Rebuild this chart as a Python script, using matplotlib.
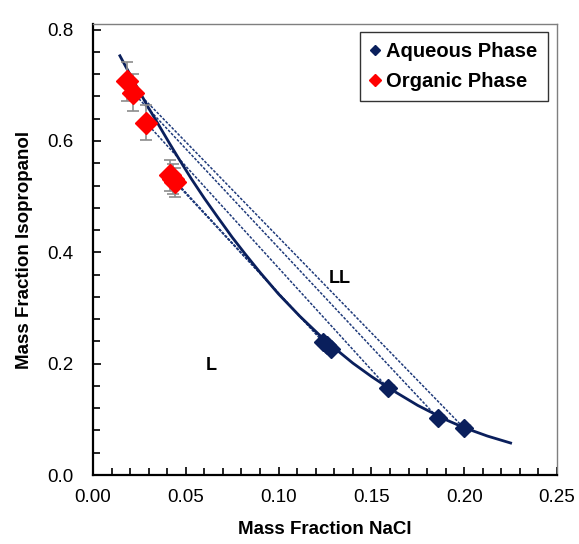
import matplotlib
matplotlib.use('Agg')
import matplotlib.pyplot as plt
from matplotlib.ticker import MultipleLocator, FormatStrFormatter

plt.rcParams['font.family'] = ['Liberation Sans', 'DejaVu Sans']

# 数据
aq_x = [0.124, 0.126, 0.128, 0.159, 0.186, 0.200]
aq_y = [0.239, 0.233, 0.226, 0.156, 0.102, 0.084]
aq_xerr = [0.003, 0.003, 0.003, 0.003, 0.003, 0.003]

org_x = [0.0183, 0.0216, 0.0286, 0.0415, 0.0430, 0.0442]
org_y = [0.707, 0.687, 0.633, 0.538, 0.532, 0.526]
org_yerr = [0.035, 0.034, 0.032, 0.027, 0.027, 0.026]

# 拟合曲线（双节线）
curve_x = [0.0145, 0.020, 0.025, 0.030, 0.035, 0.041, 0.047, 0.053, 0.060, 0.067,
           0.075, 0.082, 0.090, 0.100, 0.1115, 0.125, 0.140, 0.150, 0.159,
           0.175, 0.190, 0.200, 0.2125, 0.225]
curve_y = [0.753, 0.719, 0.689, 0.659, 0.631, 0.597, 0.564, 0.532, 0.497, 0.464,
           0.427, 0.397, 0.364, 0.325, 0.285, 0.242, 0.201, 0.177, 0.157,
           0.125, 0.0995, 0.085, 0.070, 0.0575]

# 连接线：有机相点 i -> 水相点 j
tie_pairs = [(0, 5), (1, 4), (2, 3), (3, 0), (4, 1), (5, 2)]

navy = '#0A1F5C'
red = '#FF0000'
grey = '#8C8C8C'

fig = plt.figure(figsize=(5.79, 5.44), dpi=100)
ax = fig.add_axes([0.1606, 0.1268, 0.8014, 0.8290])

for i, j in tie_pairs:
    ax.plot([org_x[i], aq_x[j]], [org_y[i], aq_y[j]], color='#1F3A7A', lw=1.1,
            linestyle=(0, (1.8, 1.0)), zorder=2)

ax.plot(curve_x, curve_y, color=navy, lw=2.0, zorder=3, solid_joinstyle='round')

ax.errorbar(org_x, org_y, yerr=org_yerr, fmt='none', ecolor=grey,
            elinewidth=1.2, capsize=4, capthick=1.2, zorder=4)
ax.errorbar(aq_x, aq_y, xerr=aq_xerr, fmt='none', ecolor=grey,
            elinewidth=1.0, capsize=3, capthick=1.0, zorder=4)
ax.plot(aq_x, aq_y, 'D', color=navy, ms=9, mec=navy, label='Aqueous Phase', zorder=5)
ax.plot(org_x, org_y, 'D', color=red, ms=11, mec=red, label='Organic Phase', zorder=5)

ax.text(0.133, 0.353, 'LL', fontsize=13, fontweight='bold', ha='center', va='center')
ax.text(0.0636, 0.196, 'L', fontsize=13, fontweight='bold', ha='center', va='center')

ax.set_xlim(0, 0.25)
ax.set_ylim(0, 0.81)
ax.xaxis.set_major_locator(MultipleLocator(0.05))
ax.xaxis.set_minor_locator(MultipleLocator(0.01))
ax.yaxis.set_minor_locator(MultipleLocator(0.04))
ax.set_yticks([0, 0.2, 0.4, 0.6, 0.8])
ax.xaxis.set_major_formatter(FormatStrFormatter('%.2f'))
ax.yaxis.set_major_formatter(FormatStrFormatter('%.1f'))
ax.tick_params(which='both', direction='in', top=False, right=False,
               labelsize=13.5, width=1.2, color='black')
ax.tick_params(axis='x', pad=10)
ax.tick_params(axis='y', pad=14)
ax.tick_params(which='major', length=6)
ax.tick_params(which='minor', length=5)

for s in ['left', 'bottom']:
    ax.spines[s].set_linewidth(1.6)
    ax.spines[s].set_color('black')
for s in ['top', 'right']:
    ax.spines[s].set_linewidth(1.0)
    ax.spines[s].set_color('#7F7F7F')

ax.set_xlabel('Mass Fraction NaCl', fontsize=13.5, fontweight='bold', labelpad=11)
ax.set_ylabel('Mass Fraction Isopropanol', fontsize=13.5, fontweight='bold', labelpad=10)

leg = ax.legend(loc='upper right', bbox_to_anchor=(0.98, 0.982), fontsize=14.5,
                frameon=True, fancybox=False, edgecolor='black', markerscale=0.6,
                handlelength=0.5, handletextpad=0.3, borderpad=0.5, labelspacing=0.55,
                borderaxespad=0)
leg.get_frame().set_linewidth(1.0)
for t in leg.get_texts():
    t.set_fontweight('bold')

plt.savefig('out.png', dpi=100)
plt.close()
